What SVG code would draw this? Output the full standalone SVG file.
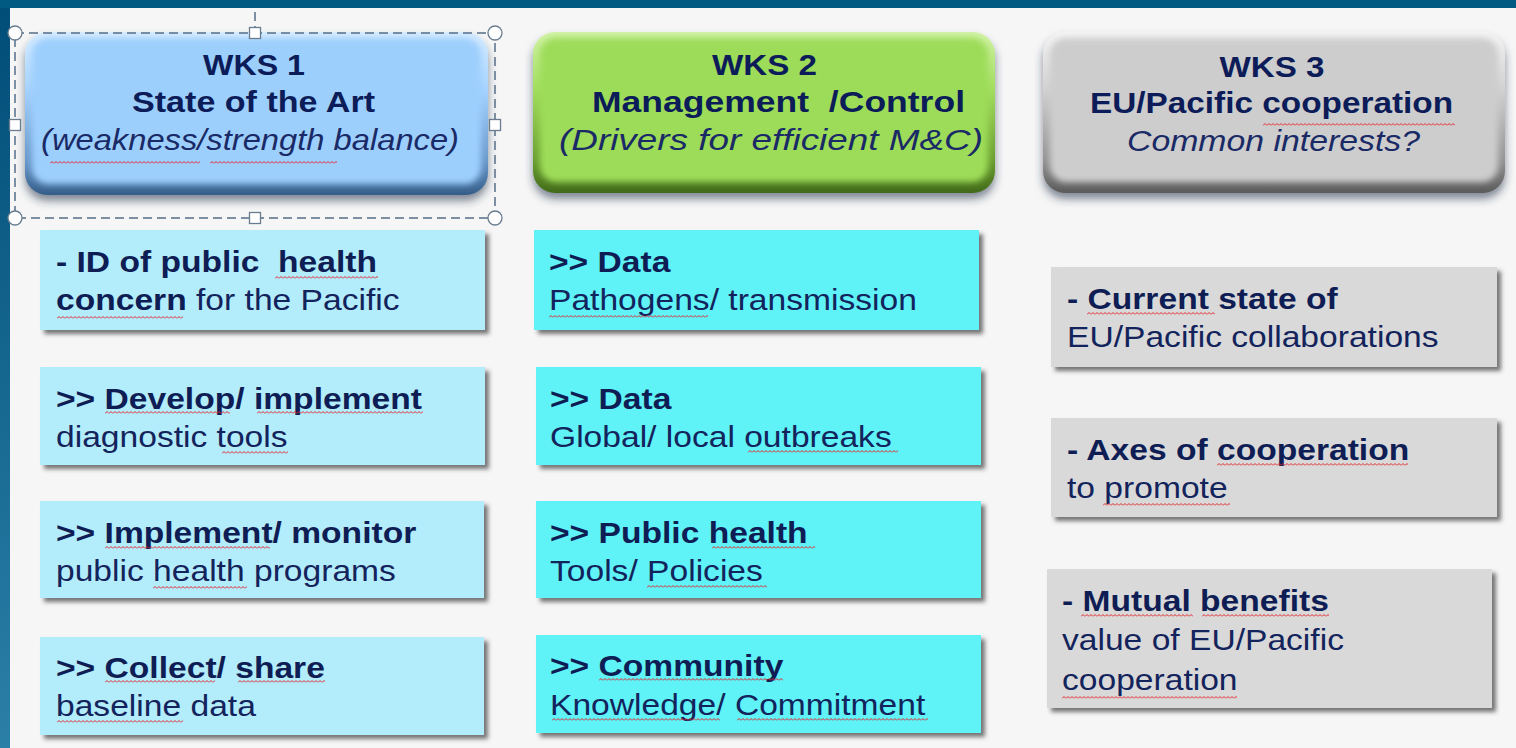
<svg xmlns="http://www.w3.org/2000/svg" width="1516" height="748" viewBox="0 0 1516 748">
<defs>
  <style>
    text { font-family: "Liberation Sans", Arial, sans-serif; fill: #13235c; }
    .t { font-size: 30px; }
    .hb { font-size: 30px; font-weight: bold; fill: #0c1c58; text-anchor: middle; }
    .hi { font-size: 30px; font-style: italic; fill: #1a2a66; text-anchor: middle; }
    .b { font-weight: bold; fill: #0f1d55; }
    .sel { fill: none; stroke: #566f88; stroke-width: 1.5; stroke-dasharray: 9 5; }
    .hnd { fill: #ffffff; stroke: #6a7d90; stroke-width: 1.3; }
    .box1 { fill: #b3ecfa; }
    .box2 { fill: #5ff2f6; }
    .box3 { fill: #d9d9d9; }
  </style>
  <linearGradient id="leftBand" x1="0" y1="0" x2="0" y2="1">
    <stop offset="0" stop-color="#004d78"/>
    <stop offset="1" stop-color="#2b80a8"/>
  </linearGradient>
  <linearGradient id="edge1" x1="0" y1="0" x2="0" y2="1">
    <stop offset="0" stop-color="#d8ecff"/>
    <stop offset="0.35" stop-color="#a6d3ff"/>
    <stop offset="0.8" stop-color="#6796c8"/>
    <stop offset="1" stop-color="#355d88"/>
  </linearGradient>
  <linearGradient id="edge2" x1="0" y1="0" x2="0" y2="1">
    <stop offset="0" stop-color="#d2f2a8"/>
    <stop offset="0.35" stop-color="#a3df60"/>
    <stop offset="0.8" stop-color="#6a9e30"/>
    <stop offset="1" stop-color="#426a1a"/>
  </linearGradient>
  <linearGradient id="edge3" x1="0" y1="0" x2="0" y2="1">
    <stop offset="0" stop-color="#f4f4f4"/>
    <stop offset="0.35" stop-color="#d2d2d2"/>
    <stop offset="0.8" stop-color="#939393"/>
    <stop offset="1" stop-color="#5a5a5a"/>
  </linearGradient>
  <filter id="hshadow" x="-10%" y="-10%" width="120%" height="130%">
    <feDropShadow dx="0" dy="6" stdDeviation="4" flood-color="#1c2f48" flood-opacity="0.55"/>
  </filter>
  <filter id="soft" x="-5%" y="-5%" width="110%" height="110%">
    <feGaussianBlur stdDeviation="3"/>
  </filter>
  <filter id="bshadow" x="-5%" y="-10%" width="112%" height="130%">
    <feDropShadow dx="4" dy="4" stdDeviation="2" flood-color="#303030" flood-opacity="0.65"/>
  </filter>
  <pattern id="sq" width="4" height="3" patternUnits="userSpaceOnUse">
    <path d="M0 2.5 L2 0.5 L4 2.5" fill="none" stroke="#e3262c" stroke-width="1"/>
  </pattern>
</defs>

<!-- background -->
<rect x="0" y="0" width="1516" height="748" fill="#f6f6f6"/>
<rect x="0" y="0" width="10" height="748" fill="url(#leftBand)"/>
<rect x="0" y="0" width="1516" height="8" fill="#005a82"/>

<!-- header nodes -->
<g id="wks1">
  <g filter="url(#hshadow)">
    <rect x="25" y="32" width="463" height="163" rx="22" fill="url(#edge1)"/>
    <rect x="32" y="38" width="449" height="146" rx="16" fill="#9dcffd" filter="url(#soft)"/>
  </g>
  <text class="hb" x="254" y="75" textLength="102" lengthAdjust="spacingAndGlyphs">WKS 1</text>
  <text class="hb" x="253.5" y="112" textLength="243" lengthAdjust="spacingAndGlyphs">State of the Art</text>
  <text class="hi" x="250" y="150" textLength="418" lengthAdjust="spacingAndGlyphs">(weakness/strength balance)</text>
</g>
<g id="wks2">
  <g filter="url(#hshadow)">
    <rect x="533" y="32" width="462" height="161" rx="22" fill="url(#edge2)"/>
    <rect x="540" y="38" width="448" height="144" rx="16" fill="#9ddc58" filter="url(#soft)"/>
  </g>
  <text class="hb" x="764.5" y="75" textLength="105" lengthAdjust="spacingAndGlyphs">WKS 2</text>
  <text class="hb" x="778.5" y="112" textLength="373" lengthAdjust="spacingAndGlyphs">Management&#160; /Control</text>
  <text class="hi" x="771" y="150" textLength="424" lengthAdjust="spacingAndGlyphs">(Drivers for efficient M&amp;C)</text>
</g>
<g id="wks3">
  <g filter="url(#hshadow)">
    <rect x="1043" y="32" width="462" height="161" rx="22" fill="url(#edge3)"/>
    <rect x="1050" y="38" width="448" height="144" rx="16" fill="#cdcdcd" filter="url(#soft)"/>
  </g>
  <text class="hb" x="1272" y="77" textLength="105" lengthAdjust="spacingAndGlyphs">WKS 3</text>
  <text class="hb" x="1271.5" y="113" textLength="363" lengthAdjust="spacingAndGlyphs">EU/Pacific cooperation</text>
  <text class="hi" x="1273.5" y="151" textLength="293" lengthAdjust="spacingAndGlyphs">Common interests?</text>
</g>

<!-- selection frame around WKS 1 -->
<g id="selection">
  <line class="sel" x1="255" y1="12" x2="255" y2="28"/>
  <rect class="sel" x="15" y="33" width="480" height="185"/>
  <circle class="hnd" cx="15" cy="33" r="7"/>
  <circle class="hnd" cx="495" cy="33" r="7"/>
  <circle class="hnd" cx="15" cy="218" r="7"/>
  <circle class="hnd" cx="495" cy="218" r="7"/>
  <rect class="hnd" x="249.5" y="27.5" width="11" height="11"/>
  <rect class="hnd" x="249.5" y="212.5" width="11" height="11"/>
  <rect class="hnd" x="9.5" y="119.5" width="11" height="11"/>
  <rect class="hnd" x="489.5" y="119.5" width="11" height="11"/>
</g>

<!-- column 1 -->
<g id="c1a">
  <rect class="box1" x="40" y="230" width="445" height="100" filter="url(#bshadow)"/>
  <g transform="translate(56,0) scale(1.12,1)">
    <text class="t" x="0" y="272"><tspan class="b">- ID of public&#160; health</tspan></text>
    <text class="t" x="0" y="310"><tspan class="b">concern</tspan> for the Pacific</text>
  </g>
</g>
<g id="c1b">
  <rect class="box1" x="40" y="367" width="445" height="98" filter="url(#bshadow)"/>
  <g transform="translate(56,0) scale(1.12,1)">
    <text class="t" x="0" y="409"><tspan class="b">&gt;&gt; Develop/ implement</tspan></text>
    <text class="t" x="0" y="447">diagnostic tools</text>
  </g>
</g>
<g id="c1c">
  <rect class="box1" x="40" y="501" width="444" height="97" filter="url(#bshadow)"/>
  <g transform="translate(56,0) scale(1.12,1)">
    <text class="t" x="0" y="543"><tspan class="b">&gt;&gt; Implement/ monitor</tspan></text>
    <text class="t" x="0" y="581">public health programs</text>
  </g>
</g>
<g id="c1d">
  <rect class="box1" x="40" y="637" width="444" height="98" filter="url(#bshadow)"/>
  <g transform="translate(56,0) scale(1.12,1)">
    <text class="t" x="0" y="678"><tspan class="b">&gt;&gt; Collect/ share</tspan></text>
    <text class="t" x="0" y="716">baseline data</text>
  </g>
</g>

<!-- column 2 -->
<g id="c2a">
  <rect class="box2" x="534" y="230" width="445" height="100" filter="url(#bshadow)"/>
  <g transform="translate(549,0) scale(1.12,1)">
    <text class="t" x="0" y="272"><tspan class="b">&gt;&gt; Data</tspan></text>
    <text class="t" x="0" y="310">Pathogens/ transmission</text>
  </g>
</g>
<g id="c2b">
  <rect class="box2" x="536" y="367" width="445" height="98" filter="url(#bshadow)"/>
  <g transform="translate(550,0) scale(1.12,1)">
    <text class="t" x="0" y="409"><tspan class="b">&gt;&gt; Data</tspan></text>
    <text class="t" x="0" y="447">Global/ local outbreaks</text>
  </g>
</g>
<g id="c2c">
  <rect class="box2" x="536" y="501" width="445" height="97" filter="url(#bshadow)"/>
  <g transform="translate(550,0) scale(1.12,1)">
    <text class="t" x="0" y="543"><tspan class="b">&gt;&gt; Public health</tspan></text>
    <text class="t" x="0" y="581">Tools/ Policies</text>
  </g>
</g>
<g id="c2d">
  <rect class="box2" x="536" y="635" width="445" height="98" filter="url(#bshadow)"/>
  <g transform="translate(550,0) scale(1.12,1)">
    <text class="t" x="0" y="676"><tspan class="b">&gt;&gt; Community</tspan></text>
    <text class="t" x="0" y="715">Knowledge/ Commitment</text>
  </g>
</g>

<!-- column 3 -->
<g id="c3a">
  <rect class="box3" x="1051" y="267" width="446" height="100" filter="url(#bshadow)"/>
  <g transform="translate(1067,0) scale(1.12,1)">
    <text class="t" x="0" y="309"><tspan class="b">- Current state of</tspan></text>
    <text class="t" x="0" y="347">EU/Pacific collaborations</text>
  </g>
</g>
<g id="c3b">
  <rect class="box3" x="1051" y="418" width="446" height="99" filter="url(#bshadow)"/>
  <g transform="translate(1067,0) scale(1.12,1)">
    <text class="t" x="0" y="460"><tspan class="b">- Axes of cooperation</tspan></text>
    <text class="t" x="0" y="498">to promote</text>
  </g>
</g>
<g id="c3c">
  <rect class="box3" x="1047" y="569" width="445" height="139" filter="url(#bshadow)"/>
  <g transform="translate(1062,0) scale(1.12,1)">
    <text class="t" x="0" y="611"><tspan class="b">- Mutual benefits</tspan></text>
    <text class="t" x="0" y="650">value of EU/Pacific</text>
    <text class="t" x="0" y="690">cooperation</text>
  </g>
</g>

<!-- spell-check underlines -->
<g id="squiggles" fill="url(#sq)">
  <rect transform="translate(50,161)" width="150" height="3"/>
  <rect transform="translate(210,161)" width="127" height="3"/>
  <rect transform="translate(1263,123)" width="192" height="3"/>
  <rect transform="translate(275,276)" width="103" height="3"/>
  <rect transform="translate(57,316)" width="126" height="3"/>
  <rect transform="translate(105,411)" width="125" height="3"/>
  <rect transform="translate(257,411)" width="166" height="3"/>
  <rect transform="translate(222,451)" width="66" height="3"/>
  <rect transform="translate(105,546)" width="165" height="3"/>
  <rect transform="translate(153,586)" width="94" height="3"/>
  <rect transform="translate(105,680)" width="110" height="3"/>
  <rect transform="translate(238,680)" width="87" height="3"/>
  <rect transform="translate(57,720)" width="126" height="3"/>
  <rect transform="translate(549,315)" width="159" height="3"/>
  <rect transform="translate(748,450)" width="150" height="3"/>
  <rect transform="translate(712,546)" width="103" height="3"/>
  <rect transform="translate(647,585)" width="120" height="3"/>
  <rect transform="translate(599,678)" width="184" height="3"/>
  <rect transform="translate(552,718)" width="168" height="3"/>
  <rect transform="translate(737,718)" width="191" height="3"/>
  <rect transform="translate(1087,312)" width="128" height="3"/>
  <rect transform="translate(1217,463)" width="191" height="3"/>
  <rect transform="translate(1103,503)" width="127" height="3"/>
  <rect transform="translate(1081,614)" width="112" height="3"/>
  <rect transform="translate(1202,614)" width="127" height="3"/>
  <rect transform="translate(1062,696)" width="175" height="3"/>
</g>
</svg>
